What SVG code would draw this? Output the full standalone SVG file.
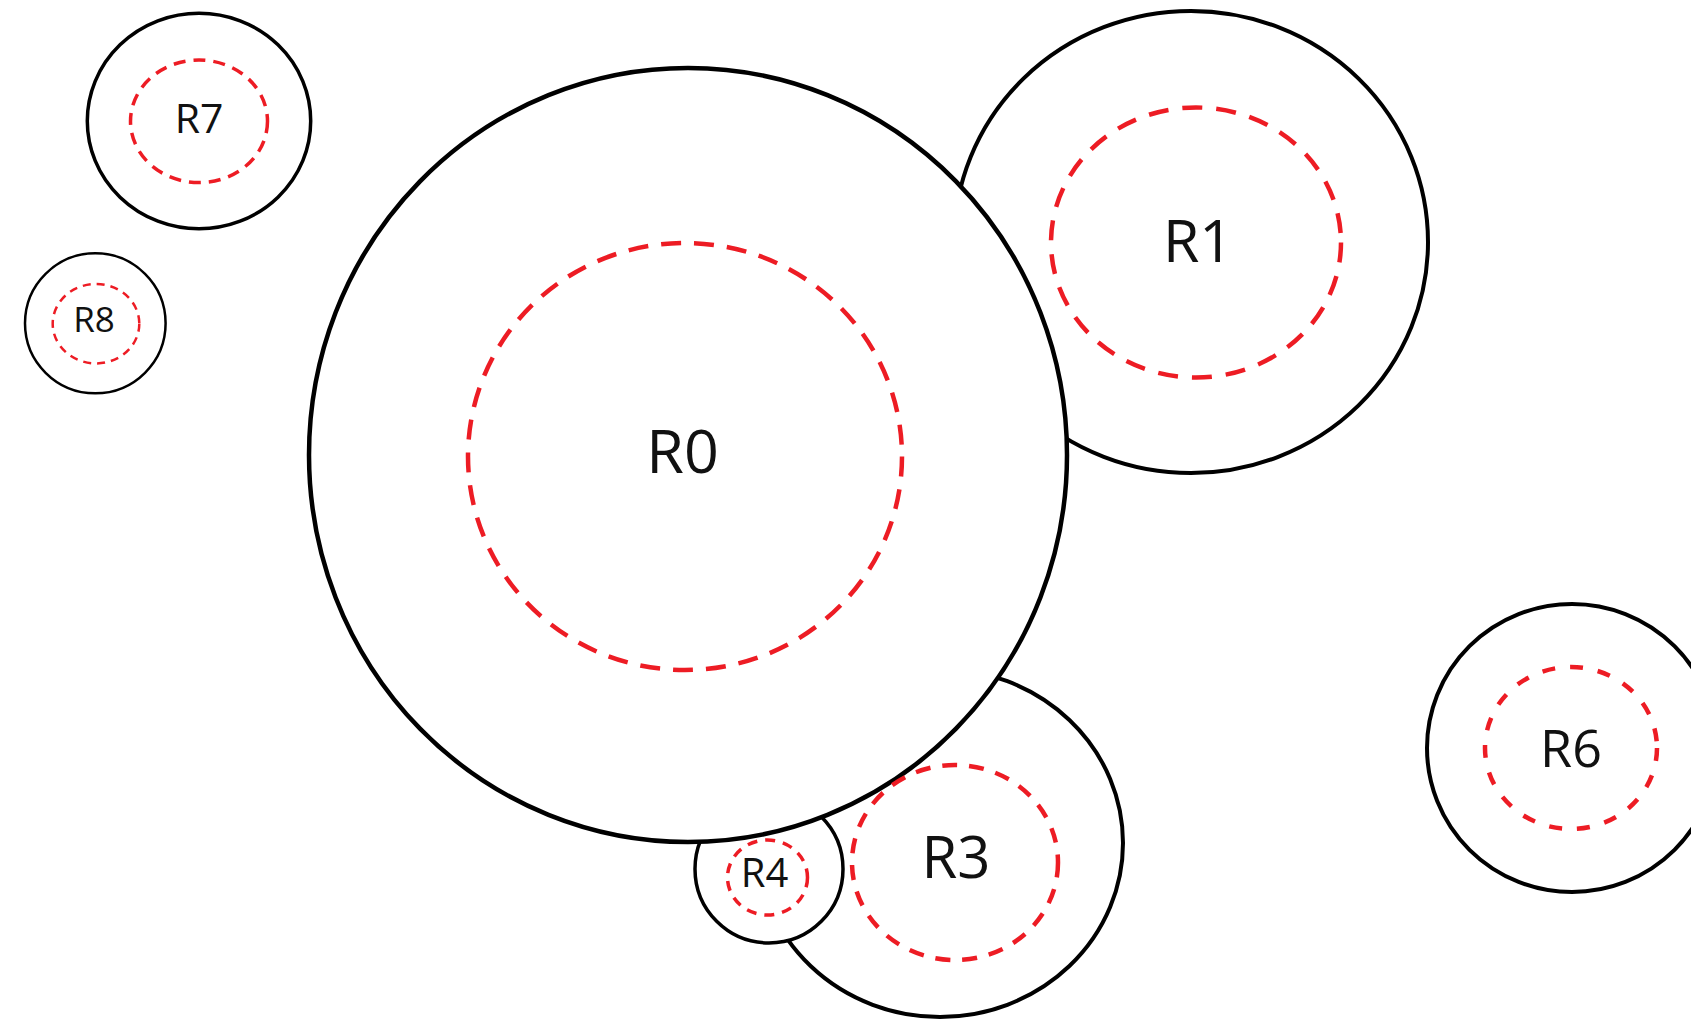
<svg xmlns="http://www.w3.org/2000/svg" width="1691" height="1021" viewBox="0 0 1691 1021">
  <style>
    .rim { fill: none; stroke: #000; }
    .core { fill: none; stroke: #ed1c24; }
    .lbl { font-family: "Open Sans", "Noto Sans", "Liberation Sans", sans-serif; fill: #111; text-anchor: middle; }
  </style>
  <defs>
    <!-- hides outlines that fall inside the big R0 region -->
    <mask id="outside-r0" maskUnits="userSpaceOnUse" x="0" y="0" width="1691" height="1021">
      <rect width="1691" height="1021" fill="#fff"/>
      <ellipse cx="688" cy="455" rx="379" ry="387" fill="#000"/>
    </mask>
    <!-- same, and also hides what lies inside R4 -->
    <mask id="outside-r0-r4" maskUnits="userSpaceOnUse" x="0" y="0" width="1691" height="1021">
      <rect width="1691" height="1021" fill="#fff"/>
      <ellipse cx="688" cy="455" rx="379" ry="387" fill="#000"/>
      <circle cx="769" cy="869" r="74" fill="#000"/>
    </mask>
  </defs>

  <rect width="1691" height="1021" fill="#fff"/>

  <g id="R0">
    <ellipse class="rim" cx="688" cy="455" rx="379" ry="387" stroke-width="4.5"/>
    <ellipse class="core" cx="685" cy="456.5" rx="217" ry="213.5" stroke-width="4.5" stroke-dasharray="20 13"/>
    <text class="lbl" x="682.5" y="472.7" font-size="61">R0</text>
  </g>

  <g id="R1">
    <ellipse class="rim" cx="1191" cy="242" rx="237" ry="231" stroke-width="4" mask="url(#outside-r0)"/>
    <ellipse class="core" cx="1196" cy="242.5" rx="145" ry="135" stroke-width="4.5" stroke-dasharray="20 14"/>
    <text class="lbl" x="1198" y="261.7" font-size="59">R1</text>
  </g>

  <g id="R3">
    <ellipse class="rim" cx="940" cy="843" rx="183" ry="174" stroke-width="4" mask="url(#outside-r0-r4)"/>
    <ellipse class="core" cx="955" cy="862.5" rx="103" ry="97.5" stroke-width="4.5" stroke-dasharray="15 12"/>
    <text class="lbl" x="956" y="878.3" font-size="58">R3</text>
  </g>

  <g id="R4">
    <circle class="rim" cx="769" cy="869" r="74" stroke-width="3.5" mask="url(#outside-r0)"/>
    <ellipse class="core" cx="767.5" cy="877.5" rx="40" ry="37.5" stroke-width="3.5" stroke-dasharray="10 8"/>
    <text class="lbl" x="764.5" y="886.7" font-size="40">R4</text>
  </g>

  <g id="R6">
    <ellipse class="rim" cx="1572" cy="748" rx="145" ry="144" stroke-width="4"/>
    <ellipse class="core" cx="1571" cy="748" rx="86" ry="81" stroke-width="4.5" stroke-dasharray="13 15"/>
    <text class="lbl" x="1571" y="766.7" font-size="52">R6</text>
  </g>

  <g id="R7">
    <ellipse class="rim" cx="199" cy="121" rx="111.7" ry="107.7" stroke-width="3.5"/>
    <ellipse class="core" cx="199" cy="121.3" rx="68.5" ry="61.3" stroke-width="3.5" stroke-dasharray="12 8"/>
    <text class="lbl" x="199" y="133.3" font-size="41">R7</text>
  </g>

  <g id="R8">
    <ellipse class="rim" cx="95.3" cy="323.3" rx="70.3" ry="70" stroke-width="2.5"/>
    <ellipse class="core" cx="96" cy="323.7" rx="43.3" ry="39.7" stroke-width="2.5" stroke-dasharray="8 6"/>
    <text class="lbl" x="94" y="331.7" font-size="35">R8</text>
  </g>
</svg>
